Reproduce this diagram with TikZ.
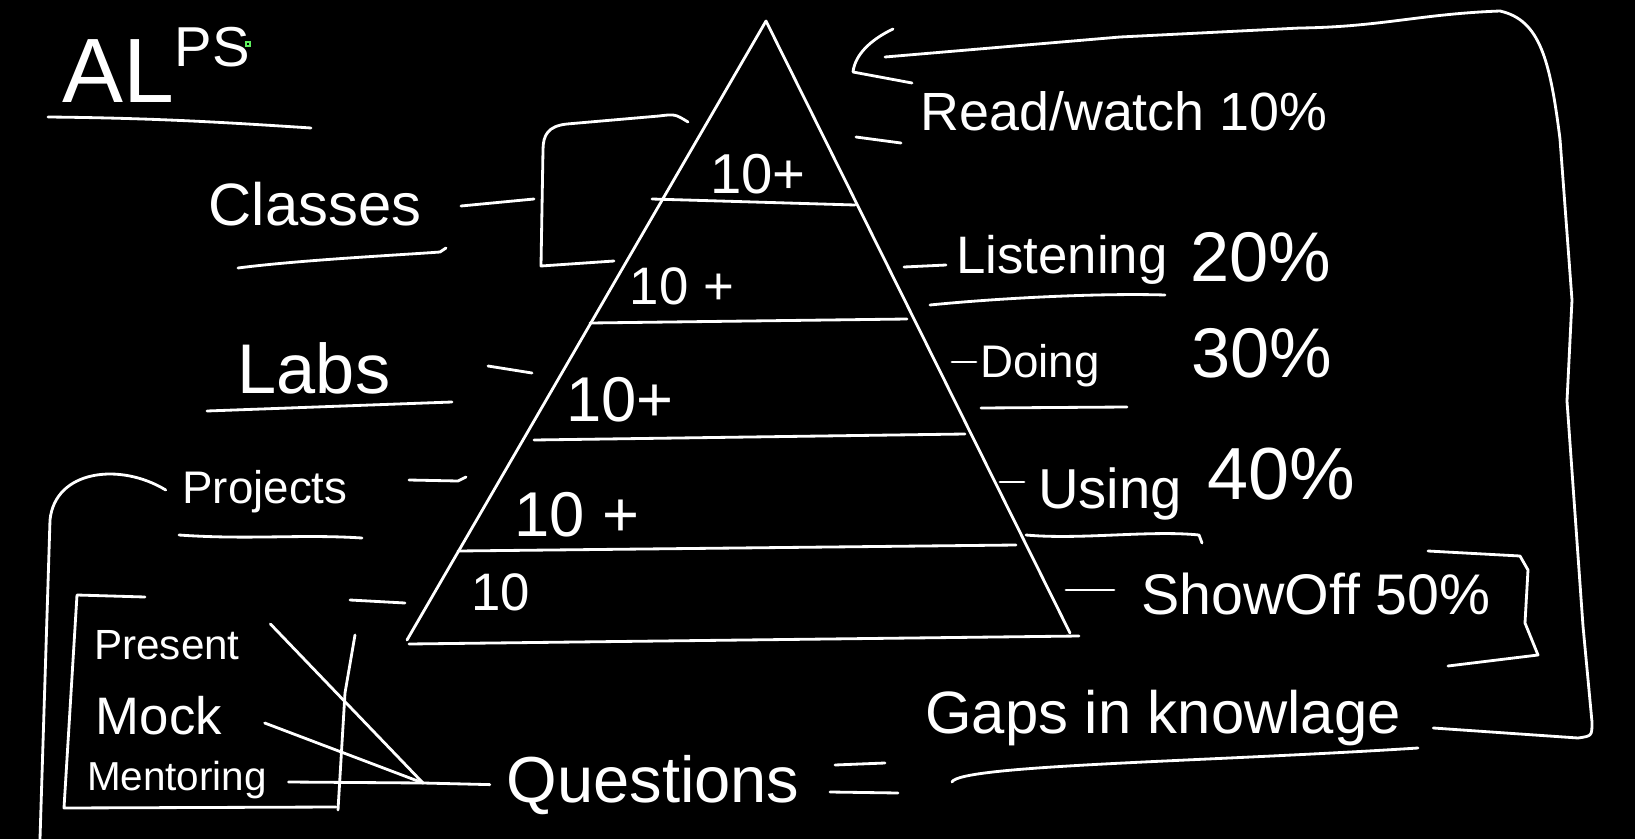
\documentclass[tikz,border=0pt]{standalone}
\usepackage{fontspec}
\setmainfont{Liberation Sans}
\usepackage{tikz}
\usetikzlibrary{positioning,calc}
\definecolor{BoardBlack}{HTML}{000000}
\definecolor{BoardChalk}{HTML}{FFFFFF}
\definecolor{BoardCursor}{HTML}{5EF05E}
\newcommand{\chalksize}[1]{\fontsize{#1}{#1}\selectfont}

\begin{document}
\begin{tikzpicture}[x=0.01cm,y=-0.01cm,
    penline/.style={draw=BoardChalk, line width=0.8pt, line cap=round, line join=round},
    chalk/.style={text=BoardChalk, inner sep=0pt}]
    \fill[BoardBlack] (0,0) rectangle (1635,839);
    \useasboundingbox (0,0) rectangle (1635,839);

    % title
    \node[chalk, anchor=base west] (alps) at (62,102)
      {{\chalksize{26}AL}\raisebox{10pt}{\chalksize{16}PS}};
    \draw[penline] (48,117) .. controls (150,118) and (220,122) .. (311,128);
    \draw[BoardCursor, line width=0.5pt] (246,42) rectangle (250,46);

    % pyramid
    \coordinate (apex) at (766,21);
    \draw[penline] (407,640) -- (apex) -- (1070,633);
    \draw[penline] (409,644) -- (1079,636);
    \draw[penline] (652,199) -- (855,205);
    \draw[penline] (590,323) -- (907,319);
    \draw[penline] (534,440) -- (965,434);
    \draw[penline] (458,551) -- (1016,545);
    \node[chalk, font=\chalksize{16}] (lvA) at (758,174) {10+};
    \node[chalk, font=\chalksize{15}] (lvB) at (682,286) {10 +};
    \node[chalk, font=\chalksize{18}] (lvC) at (620,400) {10+};
    \node[chalk, font=\chalksize{18}] (lvD) at (577,515) {10 +};
    \node[chalk, font=\chalksize{15}] (lvE) at (501,592) {10};

    % left side
    \node[chalk, font=\chalksize{17}] (classes) at (315,204) {Classes};
    \draw[penline] (238,268) .. controls (300,260) and (400,255) .. (440,252) -- (446,248);
    \draw[penline] (461,206) -- (534,199);
    \draw[penline] (688,122) .. controls (675,114) .. (659,116) -- (567,124)
      .. controls (548,126) and (543,135) .. (543,150) -- (541,266) -- (614,261);

    \node[chalk, font=\chalksize{20}] (labs) at (314,368) {Labs};
    \draw[penline] (207,411) -- (452,402);
    \draw[penline] (488,366) -- (532,373);

    \node[chalk, font=\chalksize{13}] (projects) at (265,492) {Projects};
    \draw[penline] (179,535) .. controls (250,540) and (300,534) .. (362,538);
    \draw[penline] (409,480) -- (458,481) -- (466,477);
    \draw[penline] (350,600) -- (405,603);
    \draw[penline] (projects.west) ++(-16,-2) .. controls (120,462) and (55,470) .. (50,520) -- (40,839);

    % box
    \node[chalk, font=\chalksize{12}] (present) at (167,645) {Present};
    \node[chalk, font=\chalksize{15}] (mock) at (159,716) {Mock};
    \node[chalk, font=\chalksize{11.5}] (mentoring) at (177,780) {Mentoring};
    \draw[penline] (145,597) -- (77,595) -- (64,808) -- (336,807);
    \draw[penline] (355,635) -- (345,693) -- (338,810);

    \coordinate (meet) at (423,783);
    \node[chalk, font=\chalksize{18.5}] (questions) at (653,785) {Questions};
    \draw[penline] (present.east) ++(30,-21) -- (meet);
    \draw[penline] (mock.east) ++(42,7) -- (meet);
    \draw[penline] (mentoring.east) ++(21,2) -- (meet);
    \draw[penline, shorten >=0.16cm] (meet) -- (questions.west);
    \draw[penline] (835,765) -- (885,763);
    \draw[penline] (830,792) -- (898,793);

    \node[chalk, font=\chalksize{17}] (gaps) at (1163,718) {Gaps in knowlage};
    \draw[penline] (952,782) .. controls (960,765) and (1200,762) .. (1418,748);

    % right side
    \node[chalk, font=\chalksize{15.3}] (read) at (1124,111) {Read/watch 10\%};
    \draw[penline] (856,137) -- (901,143);

    \node[chalk, font=\chalksize{15}] (listen) at (1062,260) {Listening};
    \node[chalk, font=\chalksize{20}] (pctB) at (1261,257) {20\%};
    \draw[penline] (904,267) -- (946,265);
    \draw[penline] (930,305) .. controls (1000,298) and (1100,293) .. (1165,295);

    \node[chalk, font=\chalksize{13}] (doing) at (1040,366) {Doing};
    \node[chalk, font=\chalksize{20}] (pctC) at (1262,353) {30\%};
    \draw[penline] (952,362) -- (976,362);
    \draw[penline] (981,408) -- (1127,407);

    \node[chalk, font=\chalksize{16}] (using) at (1110,494) {Using};
    \node[chalk, font=\chalksize{21}] (pctD) at (1281,474) {40\%};
    \draw[penline] (1000,482) -- (1024,482);
    \draw[penline] (1026,535) .. controls (1080,540) and (1150,530) .. (1199,535) -- (1202,543);

    \node[chalk, font=\chalksize{16.3}] (show) at (1316,594) {ShowOff 50\%};
    \draw[penline] (1066,590) -- (1114,590);
    \draw[penline] (1428,551) -- (1520,556) -- (1528,570) -- (1525,623) -- (1538,655) -- (1448,666);

    % loop back to the top
    \draw[penline] (gaps.east) ++(32,10) -- (1578,738)
      .. controls (1592,736) .. (1592,722) -- (1583,626) -- (1567,401) -- (1572,300)
      -- (1560,139) .. controls (1550,60) and (1540,20) .. (1500,11)
      .. controls (1420,14) and (1380,27) .. (1300,28) -- (1120,37) -- (885,57);
    \draw[penline] (893,29) .. controls (870,40) and (855,55) .. (853,72) -- (912,83);
\end{tikzpicture}
\end{document}
